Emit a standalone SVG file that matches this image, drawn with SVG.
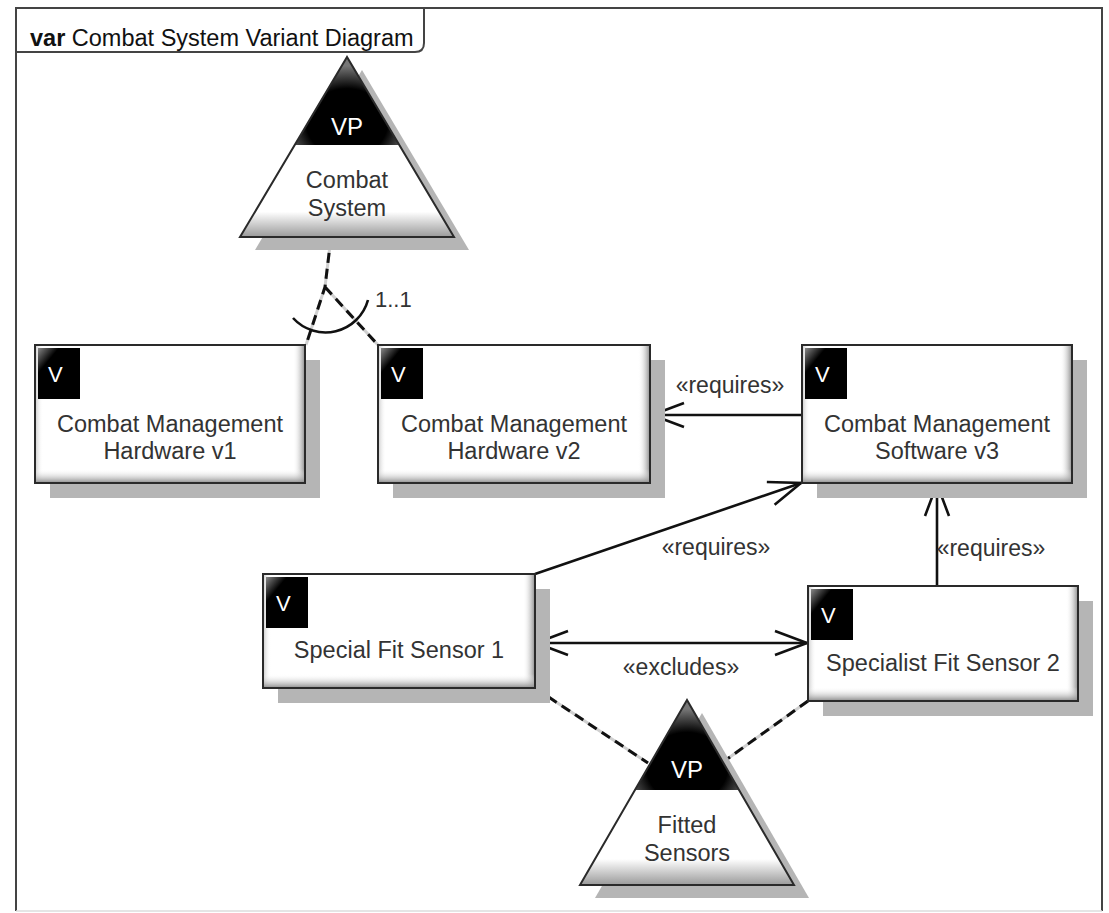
<svg xmlns="http://www.w3.org/2000/svg" width="1109" height="913" viewBox="0 0 1109 913">
<style>
text{font-family:"Liberation Sans",Arial,sans-serif;}
.t{font-size:23.5px;fill:#333;text-anchor:middle;}
.lbl{font-size:23px;fill:#333;}
.vp{font-size:24px;fill:#fff;text-anchor:middle;}
.v{font-size:22px;fill:#fff;}
.shadow{fill:#b5b5b5;}
.outline{fill:none;stroke:#2a2a2a;stroke-width:2;}
.solid{fill:none;stroke:#111;stroke-width:2.6;}
.dashbg{fill:none;stroke:#d0d0d0;stroke-width:3;}
.dash{fill:none;stroke:#111;stroke-width:3;stroke-dasharray:10 6;}
</style>
<defs>
<linearGradient id="gR" x1="0" y1="0" x2="1" y2="0"><stop offset="0" stop-color="#fff" stop-opacity="0"/><stop offset="1" stop-color="#8a8a8a"/></linearGradient>
<linearGradient id="gB" x1="0" y1="0" x2="0" y2="1"><stop offset="0" stop-color="#fff" stop-opacity="0"/><stop offset="1" stop-color="#8a8a8a"/></linearGradient>
<linearGradient id="gL" x1="0" y1="0" x2="1" y2="0"><stop offset="0" stop-color="#c8c8c8"/><stop offset="1" stop-color="#fff" stop-opacity="0"/></linearGradient>
<linearGradient id="badge" x1="0" y1="0" x2="1" y2="1"><stop offset="0" stop-color="#888"/><stop offset="0.25" stop-color="#000"/><stop offset="1" stop-color="#000"/></linearGradient>
<linearGradient id="triG" x1="0" y1="0" x2="0" y2="1"><stop offset="0" stop-color="#fff"/><stop offset="0.86" stop-color="#fff"/><stop offset="1" stop-color="#9a9a9a"/></linearGradient>
<radialGradient id="bandG" cx="0.5" cy="0.75" r="0.65"><stop offset="0" stop-color="#000"/><stop offset="0.6" stop-color="#000"/><stop offset="1" stop-color="#777"/></radialGradient>
<marker id="ah" markerUnits="userSpaceOnUse" markerWidth="40" markerHeight="30" viewBox="-34 -15 36 30" refX="0" refY="0" orient="auto-start-reverse">
<path d="M -32 -12 L 0 0 L -32 12" fill="none" stroke="#111" stroke-width="2.6"/>
</marker>
</defs>
<rect width="1109" height="913" fill="#fff"/>
<g id="frame">
<path d="M 16 911 L 16 8 L 1102 8 L 1102 911" fill="none" stroke="#444" stroke-width="2"/>
<line x1="16" y1="911" x2="1102" y2="911" stroke="#ddd" stroke-width="1.5"/>
<path d="M 16 52 L 415 52 Q 424 52 424 43 L 424 8" fill="none" stroke="#444" stroke-width="2"/>
<text x="30" y="46" style="font-size:23.5px;fill:#111"><tspan font-weight="bold">var</tspan> Combat System Variant Diagram</text>
</g>
<g id="connectors">
<path class="dashbg" d="M 331 237 L 325 287 L 306 345 M 325 287 L 378 345"/>
<path class="dash" d="M 331 237 L 325 287 L 306 345 M 325 287 L 378 345"/>
<path class="solid" d="M 293 318 A 44 44 0 0 0 368 300"/>
<text class="lbl" x="375" y="307" style="font-size:22px">1..1</text>
<path class="dashbg" d="M 535 688 L 648 763 M 808 701 L 723 762"/>
<path class="dash" d="M 535 688 L 648 763 M 808 701 L 723 762"/>
<line class="solid" x1="802" y1="415" x2="652" y2="415" marker-end="url(#ah)"/>
<text class="lbl" x="730" y="393" text-anchor="middle">«requires»</text>
<line class="solid" x1="535" y1="574" x2="801" y2="483" marker-end="url(#ah)"/>
<text class="lbl" x="716" y="555" text-anchor="middle">«requires»</text>
<line class="solid" x1="937" y1="586" x2="937" y2="484" marker-end="url(#ah)"/>
<text class="lbl" x="991" y="556" text-anchor="middle">«requires»</text>
<line class="solid" x1="536" y1="643" x2="807" y2="643" marker-start="url(#ah)" marker-end="url(#ah)"/>
<text class="lbl" x="681" y="675" text-anchor="middle">«excludes»</text>
</g>
<g id="vp-combat-system">
<polygon class="shadow" points="362,70 255,250 469,250"/>
<polygon points="347,57 240,237 454,237" fill="url(#triG)"/>
<polygon points="347,57 399,145 295,145" fill="url(#bandG)"/>
<polygon class="outline" points="347,57 240,237 454,237"/>
<text class="vp" x="347" y="135">VP</text>
<text class="t" x="347" y="188">Combat</text>
<text class="t" x="347" y="216">System</text>
</g>
<g id="v-cmh1">
<rect class="shadow" x="50" y="360" width="270" height="138"/>
<rect x="35" y="345" width="270" height="138" fill="#fff"/>
<rect x="35" y="345" width="8" height="138" fill="url(#gL)"/>
<rect x="293" y="345" width="12" height="138" fill="url(#gR)"/>
<rect x="35" y="469" width="270" height="14" fill="url(#gB)"/>
<rect class="outline" x="35" y="345" width="270" height="138"/>
<rect x="38" y="348" width="42" height="51" fill="url(#badge)"/>
<text class="v" x="48" y="382">V</text>
<text class="t" x="170" y="432">Combat Management</text>
<text class="t" x="170" y="459">Hardware v1</text>
</g>
<g id="v-cmh2">
<rect class="shadow" x="393" y="360" width="272" height="138"/>
<rect x="378" y="345" width="272" height="138" fill="#fff"/>
<rect x="378" y="345" width="8" height="138" fill="url(#gL)"/>
<rect x="638" y="345" width="12" height="138" fill="url(#gR)"/>
<rect x="378" y="469" width="272" height="14" fill="url(#gB)"/>
<rect class="outline" x="378" y="345" width="272" height="138"/>
<rect x="381" y="348" width="42" height="51" fill="url(#badge)"/>
<text class="v" x="391" y="382">V</text>
<text class="t" x="514" y="432">Combat Management</text>
<text class="t" x="514" y="459">Hardware v2</text>
</g>
<g id="v-cms3">
<rect class="shadow" x="817" y="360" width="270" height="138"/>
<rect x="802" y="345" width="270" height="138" fill="#fff"/>
<rect x="802" y="345" width="8" height="138" fill="url(#gL)"/>
<rect x="1060" y="345" width="12" height="138" fill="url(#gR)"/>
<rect x="802" y="469" width="270" height="14" fill="url(#gB)"/>
<rect class="outline" x="802" y="345" width="270" height="138"/>
<rect x="805" y="348" width="42" height="51" fill="url(#badge)"/>
<text class="v" x="815" y="382">V</text>
<text class="t" x="937" y="432">Combat Management</text>
<text class="t" x="937" y="459">Software v3</text>
</g>
<g id="v-sfs1">
<rect class="shadow" x="278" y="589" width="272" height="114"/>
<rect x="263" y="574" width="272" height="114" fill="#fff"/>
<rect x="263" y="574" width="8" height="114" fill="url(#gL)"/>
<rect x="523" y="574" width="12" height="114" fill="url(#gR)"/>
<rect x="263" y="674" width="272" height="14" fill="url(#gB)"/>
<rect class="outline" x="263" y="574" width="272" height="114"/>
<rect x="266" y="577" width="42" height="51" fill="url(#badge)"/>
<text class="v" x="276" y="611">V</text>
<text class="t" x="399" y="658">Special Fit Sensor 1</text>
</g>
<g id="v-sfs2">
<rect class="shadow" x="823" y="601" width="270" height="115"/>
<rect x="808" y="586" width="270" height="115" fill="#fff"/>
<rect x="808" y="586" width="8" height="115" fill="url(#gL)"/>
<rect x="1066" y="586" width="12" height="115" fill="url(#gR)"/>
<rect x="808" y="687" width="270" height="14" fill="url(#gB)"/>
<rect class="outline" x="808" y="586" width="270" height="115"/>
<rect x="811" y="589" width="42" height="51" fill="url(#badge)"/>
<text class="v" x="821" y="623">V</text>
<text class="t" x="943" y="671">Specialist Fit Sensor 2</text>
</g>
<g id="vp-fitted-sensors">
<polygon class="shadow" points="702,713 595,898 809,898"/>
<polygon points="687,700 580,885 794,885" fill="url(#triG)"/>
<polygon points="687,700 739,790 635,790" fill="url(#bandG)"/>
<polygon class="outline" points="687,700 580,885 794,885"/>
<text class="vp" x="687" y="778">VP</text>
<text class="t" x="687" y="833">Fitted</text>
<text class="t" x="687" y="861">Sensors</text>
</g>
</svg>
